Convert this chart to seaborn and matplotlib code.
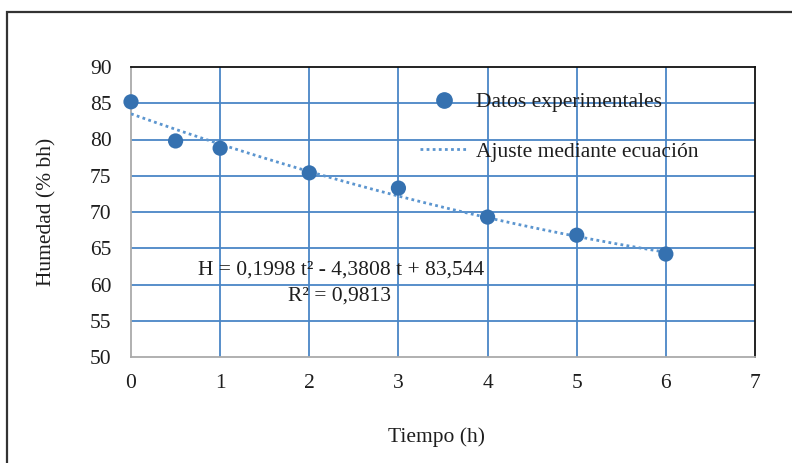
import matplotlib
matplotlib.use("Agg")
import matplotlib.pyplot as plt
import matplotlib.patches as mpatches
from matplotlib.lines import Line2D
import numpy as np
import pandas as pd
import seaborn as sns

# data
tiempo = [0, 0.5, 1, 2, 3, 4, 5, 6]
humedad = [85.2, 79.8, 78.8, 75.4, 73.3, 69.3, 66.8, 64.2]
fit_coefs = [0.1998, -4.3808, 83.544]
x_ticks = [0, 1, 2, 3, 4, 5, 6, 7]
y_ticks = [50, 55, 60, 65, 70, 75, 80, 85, 90]

sns.set_theme(style="white")
plt.rcParams['font.family'] = ['Liberation Serif', 'DejaVu Serif']

FS = 15.5
TXT = "#1e1e1e"

fig = plt.figure(figsize=(7.92, 4.63), dpi=100)
ax = fig.add_axes([131/792, 1-357/463, (755-131)/792, (357-67)/463])

grid_c = "#4a86c6"
pt_c = "#3571b0"
fit_c = "#5b95cf"

df = pd.DataFrame({"t": tiempo, "h": humedad})
tt = np.linspace(0, 6, 200)
fit_df = pd.DataFrame({"t": tt, "h": np.polyval(fit_coefs, tt)})

sns.lineplot(data=fit_df, x="t", y="h", ax=ax, color=fit_c, lw=2,
             linestyle=(0, (1, 1.2)), zorder=3)
sns.scatterplot(data=df, x="t", y="h", ax=ax, color=pt_c, s=120,
                edgecolor="none", zorder=4, clip_on=False)

ax.set_xlim(0, 7)
ax.set_ylim(50, 90)
ax.set_xticks(x_ticks)
ax.set_yticks(y_ticks)
ax.set_xticklabels([str(v) for v in x_ticks], fontsize=FS, color=TXT)
ax.set_yticklabels([str(v) for v in y_ticks], fontsize=FS, color=TXT)
ax.tick_params(axis="both", length=0)
ax.tick_params(axis="x", pad=12)
ax.tick_params(axis="y", pad=14)

for v in x_ticks[1:-1]:
    ax.axvline(v, color=grid_c, lw=1.3, zorder=1)
for v in y_ticks[1:-1]:
    ax.axhline(v, color=grid_c, lw=1.3, zorder=1)

ax.spines["left"].set_color("#aaaaaa")
ax.spines["bottom"].set_color("#aaaaaa")
ax.spines["top"].set_color("#111111")
ax.spines["right"].set_color("#111111")
for s in ax.spines.values():
    s.set_linewidth(1.3)

ax.set_xlabel("")
ax.set_ylabel("")
fig.text(437/792, 1-437/463, "Tiempo (h)", ha="center", va="center",
         fontsize=FS, color=TXT)
fig.text(47/792, 1-212/463, "Humedad (% bh)", ha="center", va="center",
         rotation=90, fontsize=FS, color=TXT)

fig.text(341/792, 1-270/463, "H = 0,1998 t² - 4,3808 t + 83,544",
         ha="center", va="center", fontsize=FS, color=TXT)
fig.text(340/792, 1-296/463, "R² = 0,9813",
         ha="center", va="center", fontsize=FS, color=TXT)

handles = [
    Line2D([], [], marker="o", color=pt_c, linestyle="none", markersize=11),
    Line2D([], [], color=fit_c, lw=2, linestyle=(0, (1, 1.2))),
]
leg = ax.legend(handles, ["Datos experimentales", "Ajuste mediante ecuación"],
                loc="upper left", bbox_to_anchor=(420/792, 1-92/463),
                bbox_transform=fig.transFigure, frameon=False, fontsize=FS,
                labelspacing=1.38, handlelength=2.2, handletextpad=0.4,
                borderpad=0, borderaxespad=0)
for t in leg.get_texts():
    t.set_color(TXT)

fig.patches.append(mpatches.Rectangle((7/792, -0.1), 1.2, (1-12/463) + 0.1,
                                      transform=fig.transFigure, fill=False,
                                      edgecolor="#333333", lw=1.6))

fig.savefig("out.png", dpi=100)
